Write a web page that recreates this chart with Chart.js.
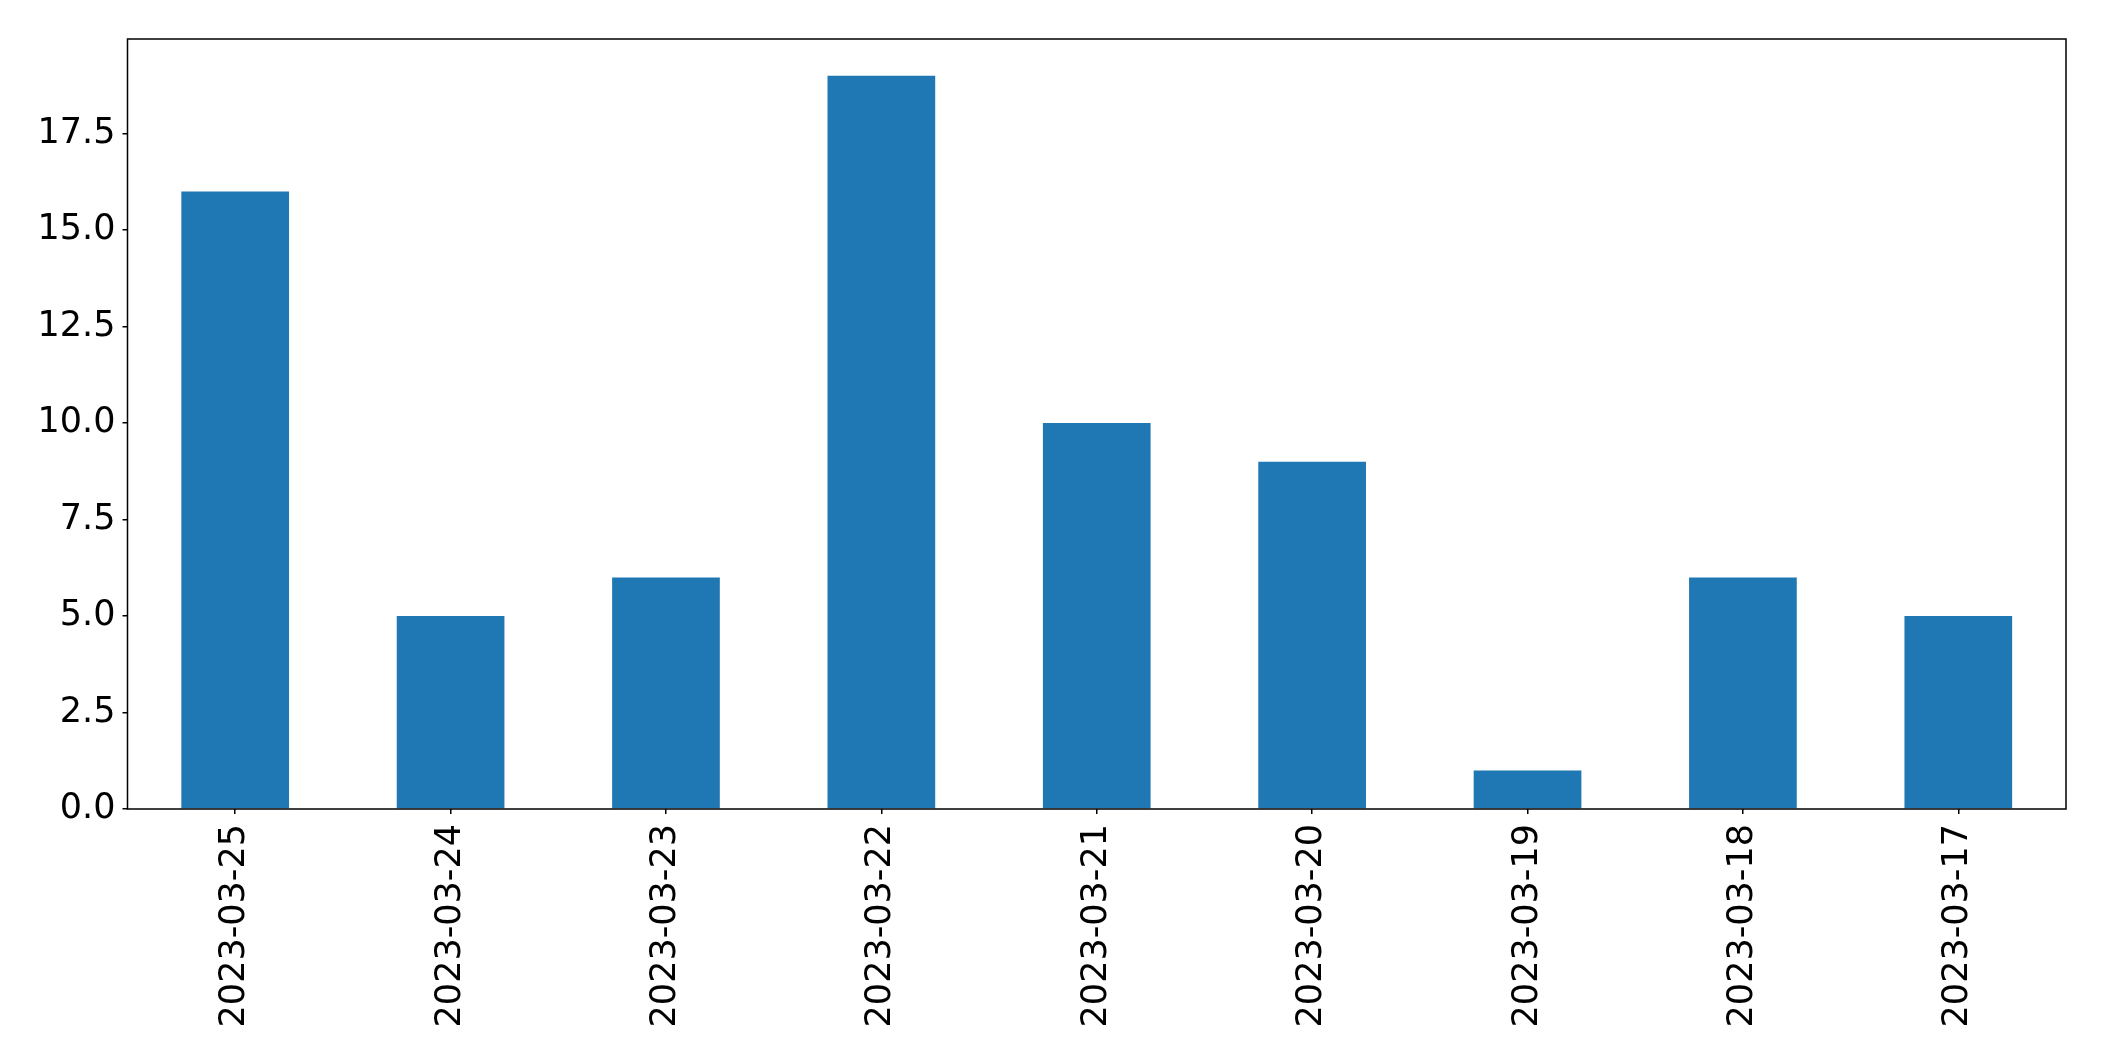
<!DOCTYPE html>
<html>
<head>
<meta charset="utf-8">
<script src="https://cdn.jsdelivr.net/npm/chart.js"></script>
<style>
  body { margin: 0; background: #fff; }
  canvas { display: block; }
</style>
</head>
<body>
<canvas id="barChart" width="2104" height="1061"></canvas>
<script>
  // data
  const dates = ['2023-03-25', '2023-03-24', '2023-03-23', '2023-03-22', '2023-03-21',
                 '2023-03-20', '2023-03-19', '2023-03-18', '2023-03-17'];
  const counts = [16, 5, 6, 19, 10, 9, 1, 6, 5];
  const yTop = 19.95;
  const yStep = 2.5;

  // box around the plot area, like matplotlib's spines
  const frame = {
    id: 'frame',
    afterDraw(chart) {
      const a = chart.chartArea;
      const ctx = chart.ctx;
      ctx.save();
      ctx.strokeStyle = '#000';
      ctx.lineWidth = 1.5;
      ctx.strokeRect(a.left, a.top, a.right - a.left, a.bottom - a.top);
      ctx.restore();
    }
  };

  const font = { family: 'DejaVu Sans', size: 35 };

  var ctx = document.getElementById('barChart').getContext('2d');
  var chart = new Chart(ctx, {
    type: 'bar',
    data: {
      labels: dates,
      datasets: [{
        data: counts,
        backgroundColor: '#1f77b4',
        borderWidth: 0,
        barPercentage: 0.5,
        categoryPercentage: 1
      }]
    },
    options: {
      responsive: false,
      animation: false,
      layout: { padding: { top: 39, right: 38, left: 0, bottom: 0 } },
      plugins: { legend: { display: false }, tooltip: { enabled: false } },
      scales: {
        x: {
          offset: true,
          grid: { display: true, offset: false, drawOnChartArea: false, drawTicks: true, tickLength: 5, color: '#000', lineWidth: 1.5 },
          border: { display: false },
          ticks: { color: '#000', font: font, minRotation: 90, maxRotation: 90, padding: 10, autoSkip: false },
          afterFit: s => { s.height = 252; }
        },
        y: {
          min: 0,
          max: yTop,
          grid: { display: true, drawOnChartArea: false, drawTicks: true, tickLength: 5, color: '#000', lineWidth: 1.5 },
          border: { display: false },
          ticks: {
            stepSize: yStep,
            includeBounds: false,
            color: '#000',
            font: font,
            padding: 7,
            callback: v => v.toFixed(1)
          },
          afterFit: s => { s.width = 127.5; }
        }
      }
    },
    plugins: [frame]
  });
</script>
</body>
</html>
